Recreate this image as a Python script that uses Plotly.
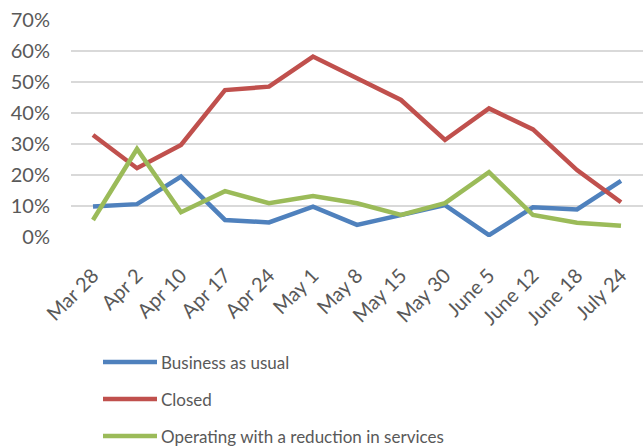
import plotly.graph_objects as go

# Survey dates
dates = ["Mar 28", "Apr 2", "Apr 10", "Apr 17", "Apr 24", "May 1", "May 8",
         "May 15", "May 30", "June 5", "June 12", "June 18", "July 24"]

# Share of respondents by operating status (fractions)
business_as_usual = [0.098, 0.106, 0.195, 0.055, 0.047, 0.098, 0.039,
                     0.071, 0.103, 0.006, 0.096, 0.089, 0.181]
closed = [0.329, 0.222, 0.297, 0.474, 0.485, 0.582, 0.512,
          0.442, 0.313, 0.415, 0.347, 0.216, 0.112]
reduced_services = [0.055, 0.284, 0.080, 0.148, 0.109, 0.132, 0.109,
                    0.071, 0.109, 0.209, 0.071, 0.046, 0.036]

series_names = ["Business as usual", "Closed", "Operating with a reduction in services"]
series_values = [business_as_usual, closed, reduced_services]
series_colors = ["#4F81BD", "#C0504D", "#9BBB59"]

y_ticks = [0, 0.1, 0.2, 0.3, 0.4, 0.5, 0.6, 0.7]

FONT = "Lato"
TEXT_COLOR = "#595959"

fig = go.Figure()
for name, vals, color in zip(series_names, series_values, series_colors):
    fig.add_trace(go.Scatter(
        x=dates, y=vals, name=name, mode="lines",
        line=dict(color=color, width=4.5, shape="linear"),
        showlegend=False,
    ))

# Legend drawn as a vertical list below the plot area (positions in y-domain units)
PLOT_W, PLOT_H, PLOT_BOTTOM, PLOT_LEFT = 572, 217, 237, 71
legend_rows = [362, 399, 436]
for name, color, row in zip(series_names, series_colors, legend_rows):
    yd = (PLOT_BOTTOM - row) / PLOT_H
    fig.add_shape(type="line", xref="x domain", yref="y domain",
                  x0=(103 - PLOT_LEFT) / PLOT_W, x1=(157 - PLOT_LEFT) / PLOT_W,
                  y0=yd, y1=yd, line=dict(color=color, width=4.5))
    fig.add_annotation(text=name, xref="x domain", yref="y domain",
                       x=(159 - PLOT_LEFT) / PLOT_W, y=yd,
                       xanchor="left", yanchor="middle", showarrow=False,
                       font=dict(family=FONT, size=17, color=TEXT_COLOR))

fig.update_layout(
    width=643, height=447,
    margin=dict(l=71, r=0, t=20, b=210),
    plot_bgcolor="white", paper_bgcolor="white",
    font=dict(family=FONT, color=TEXT_COLOR),
)
fig.update_xaxes(
    type="category", range=[-0.5, len(dates) - 0.5],
    tickangle=-45, tickfont=dict(family=FONT, size=20, color=TEXT_COLOR),
    showgrid=False, showline=False, zeroline=False, ticks="",
    ticklabelstandoff=22,
)
fig.update_yaxes(
    range=[0, 0.7], tickvals=y_ticks, tickformat=".0%",
    tickfont=dict(family=FONT, size=20, color=TEXT_COLOR),
    showgrid=True, gridcolor="#D9D9D9", gridwidth=1.5,
    zeroline=False, showline=False, ticks="", ticklabelstandoff=20,
)

fig.write_html("out.html")
